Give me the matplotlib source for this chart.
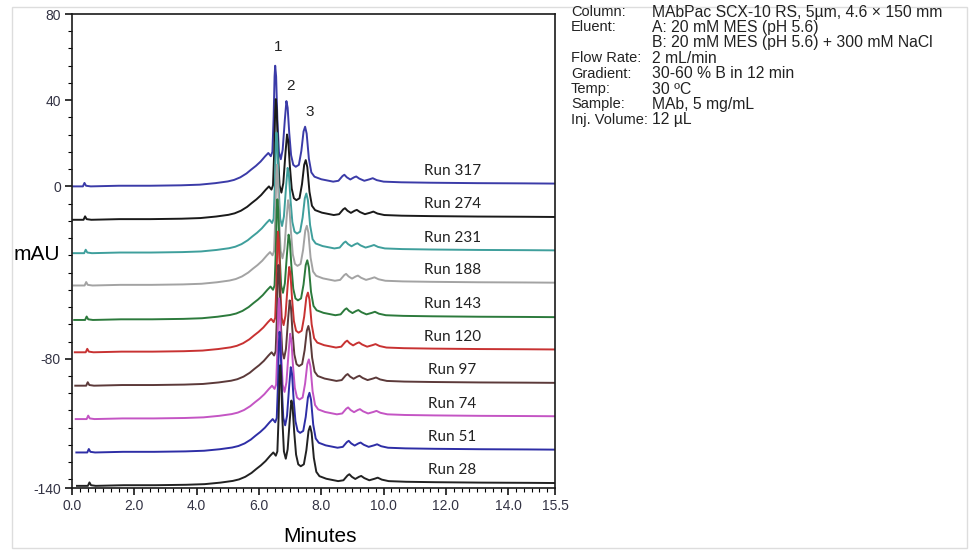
import matplotlib
matplotlib.use("Agg")
import matplotlib.pyplot as plt
from matplotlib.patches import Rectangle
from matplotlib.ticker import MultipleLocator

# chromatogram profile of the newest run (minutes, mAU above its baseline)
profile_t = [0.0, 0.35, 0.40, 0.45, 0.6, 1.5, 2.5, 3.5, 4.1, 4.6, 5.0, 5.2,
             5.4, 5.6, 5.75, 5.9, 6.05, 6.2, 6.3, 6.38, 6.43, 6.47, 6.50,
             6.52, 6.55, 6.59, 6.64, 6.70, 6.76, 6.83, 6.88, 6.92, 6.97,
             7.03, 7.10, 7.18, 7.28, 7.36, 7.43, 7.48, 7.53, 7.60, 7.68,
             7.78, 8.0, 8.38, 8.55, 8.68, 8.74, 8.82, 8.93, 9.05, 9.12,
             9.22, 9.38, 9.55, 9.65, 9.78, 10.0, 10.56, 11.5, 13.0, 14.5, 15.5]
profile_y = [0.0, 0.0, 1.6, 0.3, 0.0, 0.3, 0.3, 0.5, 0.8, 1.5, 2.3, 3.0,
             4.2, 6.0, 7.8, 9.5, 11.5, 14.0, 15.5, 14.0, 16.0, 32.0, 51.0,
             56.0, 51.0, 31.0, 16.0, 12.6, 17.0, 31.0, 39.6, 36.5, 25.0,
             14.5, 10.0, 9.1, 10.0, 16.5, 25.5, 27.7, 24.5, 13.0, 6.5,
             4.5, 3.3, 2.2, 2.6, 4.8, 5.4, 4.2, 3.2, 4.2, 4.6,
             3.6, 2.6, 3.3, 3.8, 2.9, 2.2, 1.9, 1.7, 1.5, 1.4, 1.3]

runs = ["Run 317", "Run 274", "Run 231", "Run 188", "Run 143",
        "Run 120", "Run 97", "Run 74", "Run 51", "Run 28"]
baselines = [0, -15.5, -31, -46, -62, -77, -92.5, -108, -123.5, -139]
rt_shift = [0.0, 0.02, 0.04, 0.055, 0.07, 0.09, 0.105, 0.12, 0.14, 0.16]
colors = ["#3b3ba8", "#1a1a1a", "#3f9f9c", "#a3a3a3", "#2c7a3c",
          "#c83232", "#5c3a3a", "#c455c4", "#2e2ea6", "#222222"]

peak_labels = ["1", "2", "3"]
peak_pos = [(6.6, 64.5), (7.0, 46.5), (7.62, 34.5)]

conditions = [
    ("Column:", "MAbPac SCX-10 RS, 5\u00b5m, 4.6 \u00d7 150 mm"),
    ("Eluent:", "A: 20 mM MES (pH 5.6)"),
    ("", "B: 20 mM MES (pH 5.6) + 300 mM NaCl"),
    ("Flow Rate:", "2 mL/min"),
    ("Gradient:", "30-60 % B in 12 min"),
    ("Temp:", "30 \u00baC"),
    ("Sample:", "MAb, 5 mg/mL"),
    ("Inj. Volume:", "12 \u00b5L"),
]

plt.rcParams['font.family'] = ['Liberation Sans', 'DejaVu Sans']

fig = plt.figure(figsize=(9.69, 5.5), dpi=100)
ax = fig.add_axes([0.0743, 0.1127, 0.4985, 0.8618])

# lower traces drawn last so their peaks sit on top
for name, base, dt, c in zip(runs, baselines, rt_shift, colors):
    t = [v + dt for v in profile_t]
    y = [v + base for v in profile_y]
    ax.plot(t, y, color=c, lw=1.4)
    ax.text(12.2, base + 7.2, name, ha="center", va="center",
            fontsize=11, family=["Lato", "DejaVu Sans"], color="#222222")

for lab, (px, py) in zip(peak_labels, peak_pos):
    ax.text(px, py, lab, ha="center", va="center", fontsize=11, color="#222222")

ax.set_xlim(0, 15.5)
ax.set_ylim(-140, 80)
ax.set_xticks([0, 2, 4, 6, 8, 10, 12, 14, 15.5])
ax.set_xticklabels(["0.0", "2.0", "4.0", "6.0", "8.0", "10.0", "12.0", "14.0", "15.5"])
ax.xaxis.set_minor_locator(MultipleLocator(0.25))
ax.set_yticks([80, 40, 0, -80, -140])
ax.set_yticklabels(["80", "40", "0", "-80", "-140"])
ax.yaxis.set_minor_locator(MultipleLocator(8))
ax.tick_params(axis="both", which="major", length=5, width=1.1,
               labelsize=10, labelcolor="#333344", direction="out")
ax.tick_params(axis="both", which="minor", length=3, width=0.8, direction="out")
ax.tick_params(axis="x", pad=3)
ax.tick_params(axis="y", pad=3)
for s in ax.spines.values():
    s.set_linewidth(1.2)
    s.set_color("#1a1a1a")

fig.text(37 / 969, 1 - 255 / 550, "mAU", ha="center", va="center", fontsize=15)
fig.text(320 / 969, 1 - 536 / 550, "Minutes", ha="center", va="center", fontsize=15)

y0 = 12
for i, (k, v) in enumerate(conditions):
    yy = 1 - (y0 + i * 15.4) / 550
    fig.text(571 / 969, yy, k, ha="left", va="center", fontsize=10.5, color="#222222")
    fig.text(652 / 969, yy, v, ha="left", va="center", fontsize=11.3, color="#222222")

fig.patches.append(Rectangle((12 / 969, 2 / 550), 955 / 969, 541 / 550,
                             transform=fig.transFigure, fill=False,
                             edgecolor="#dddddd", lw=1))

fig.savefig("out.png", dpi=100)
